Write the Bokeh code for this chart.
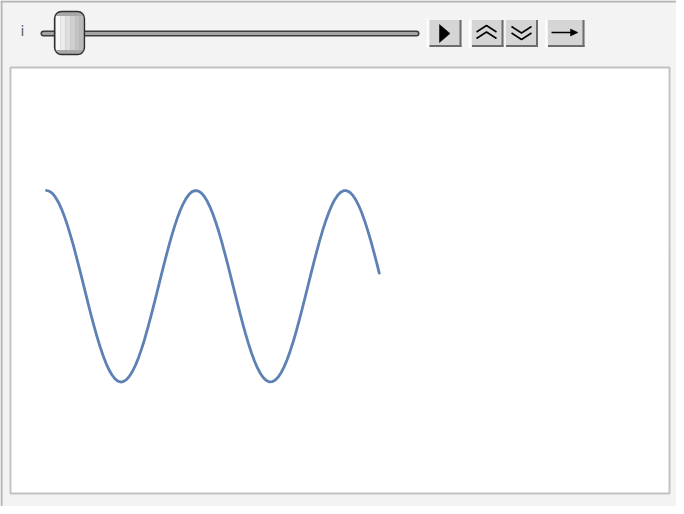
from bokeh.plotting import figure
from bokeh.models import Range1d
from bokeh.embed import file_html
from bokeh.resources import INLINE
from bokeh.core.properties import value

# ---- data ----
x_vals = [0.0, 0.125, 0.25, 0.375, 0.5, 0.625, 0.75, 0.875, 1.0, 1.125, 1.25, 1.375,
          1.5, 1.625, 1.75, 1.875, 2.0, 2.125, 2.25, 2.375, 2.5, 2.625, 2.75, 2.875,
          3.0, 3.125, 3.25, 3.375, 3.5, 3.625, 3.75, 3.875, 4.0, 4.125, 4.25, 4.375,
          4.5, 4.625, 4.75, 4.875, 5.0, 5.125, 5.25, 5.375, 5.5, 5.625, 5.75, 5.875,
          6.0, 6.125, 6.25, 6.375, 6.5, 6.625, 6.75, 6.875, 7.0, 7.125, 7.25, 7.375,
          7.5, 7.625, 7.75, 7.875, 8.0, 8.125, 8.25, 8.375, 8.5, 8.625, 8.75, 8.875,
          9.0, 9.125, 9.25, 9.375, 9.5, 9.625, 9.75, 9.875, 10.0, 10.125, 10.25, 10.375,
          10.5, 10.625, 10.75, 10.875, 11.0, 11.125, 11.25, 11.375, 11.5, 11.625, 11.75,
          11.875, 12.0, 12.125, 12.25, 12.375, 12.5, 12.625, 12.75, 12.875, 13.0, 13.125,
          13.25, 13.375, 13.5, 13.625, 13.75, 13.875, 14.0]
y_vals = [1.000, 0.992, 0.969, 0.930, 0.878, 0.811, 0.732, 0.641, 0.540, 0.431, 0.315, 0.195,
          0.071, -0.054, -0.178, -0.300, -0.416, -0.526, -0.628, -0.721, -0.801, -0.870,
          -0.924, -0.965, -0.990, -1.000, -0.994, -0.973, -0.936, -0.885, -0.821, -0.743,
          -0.654, -0.556, -0.446, -0.331, -0.211, -0.088, 0.038, 0.162, 0.284, 0.401,
          0.512, 0.615, 0.709, 0.791, 0.861, 0.918, 0.960, 0.988, 0.999, 0.996, 0.977,
          0.942, 0.893, 0.830, 0.754, 0.666, 0.569, 0.461, 0.347, 0.227, 0.104, -0.021,
          -0.146, -0.268, -0.386, -0.498, -0.602, -0.697, -0.781, -0.853, -0.911, -0.955,
          -0.985, -0.999, -0.997, -0.980, -0.948, -0.900, -0.839, -0.765, -0.678, -0.582,
          -0.476, -0.362, -0.243, -0.120, 0.004, 0.129, 0.252, 0.370, 0.483, 0.589, 0.685,
          0.770, 0.844, 0.904, 0.950, 0.982, 0.998, 0.998, 0.983, 0.953, 0.907, 0.848,
          0.775, 0.690, 0.594, 0.491, 0.378, 0.259, 0.137]
slider_label = "i"

W, H = 676, 506
p = figure(width=W, height=H, output_backend="svg", toolbar_location=None,
           x_range=Range1d(8, 684), y_range=Range1d(514, 8),
           x_axis_location=None, y_axis_location=None, min_border=0,
           background_fill_color="#f3f3f3", border_fill_color="#f3f3f3",
           outline_line_color=None)
p.grid.visible = False

# outer panel border
p.quad(left=8, right=684, top=8, bottom=10, fill_color="#b4b4b4", line_color=None)
p.quad(left=8, right=10, top=8, bottom=514, fill_color="#b4b4b4", line_color=None)

# plot area
p.quad(left=18, right=677, top=75, bottom=501, fill_color="white",
       line_color="#c2c2c2", line_width=2)

# slider label
p.text(x=[30], y=[38.5], text=[slider_label], text_font=value("DejaVu Sans"),
       text_font_size="14px", text_color="#5c5c5c", text_align="center",
       text_baseline="middle")

# slider track
p.line(x=[51, 424], y=[41, 41], line_width=6, line_color="#3c3c3c", line_cap="round")
p.line(x=[51, 424], y=[41, 41], line_width=3, line_color="#a4a4a4", line_cap="round")

# slider knob
p.quad(left=62, right=92, top=19, bottom=62, fill_color="#a8a8a8",
       line_color="#2e2e2e", line_width=1.3, border_radius=7)
knob_strips = [(63.5, 68, "#f8f8f8"), (68, 73, "#ececec"), (73, 78, "#dedede"),
               (78, 83, "#d0d0d0"), (83, 87, "#c4c4c4"), (87, 90.5, "#bababa")]
for l, r, c in knob_strips:
    p.quad(left=l, right=r, top=23.5, bottom=57.5, fill_color=c, line_color=None)

# buttons
def button(l, r, t=27.5, b=54.5):
    p.quad(left=l, right=r, top=t, bottom=b, fill_color="#d5d5d5", line_color=None)
    p.quad(left=r - 2, right=r, top=t, bottom=b, fill_color="#6c6c6c", line_color=None)
    p.quad(left=l, right=r, top=b - 2, bottom=b, fill_color="#6c6c6c", line_color=None)

for sx in [434.5, 476.5, 553]:
    p.quad(left=sx, right=sx + 1.5, top=26, bottom=56, fill_color="white", line_color=None)

button(437, 469)
button(479.5, 511)
button(513.5, 545.5)
button(555.5, 592)

# play icon
p.patch(x=[447, 447, 457.5], y=[32, 50, 41], fill_color="black", line_color="black", line_width=0.5)
# double up
p.line(x=[484, 494, 504], y=[39.5, 33, 39.5], line_color="black", line_width=1.5)
p.line(x=[484, 494, 504], y=[46, 39.5, 46], line_color="black", line_width=1.5)
# double down
p.line(x=[519, 529, 539], y=[34, 40.5, 34], line_color="black", line_width=1.5)
p.line(x=[519, 529, 539], y=[40.5, 47, 40.5], line_color="black", line_width=1.5)
# arrow
p.line(x=[559, 580], y=[40, 40], line_color="black", line_width=1.5)
p.patch(x=[578, 578, 585.5], y=[36.5, 43.5, 40], fill_color="black", line_color="black", line_width=0.5)

# curve, through its own data ranges
p.extra_x_ranges = {"cx": Range1d(-1.935, 26.504)}
p.extra_y_ranges = {"cy": Range1d(-2.300, 2.984)}
p.line(x=x_vals, y=y_vals, x_range_name="cx", y_range_name="cy",
       line_color="#5e81b5", line_width=2.8, line_join="round", line_cap="round")

open("out.html", "w").write(file_html(p, INLINE))
